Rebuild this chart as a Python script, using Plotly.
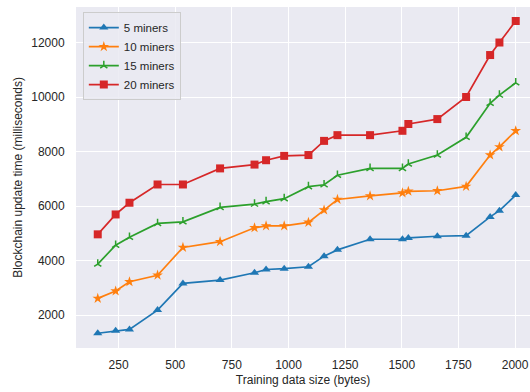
import plotly.graph_objects as go

sizes = [158, 237, 298, 422, 534, 698, 850, 901, 981, 1088, 1157, 1216, 1360, 1503, 1529, 1657, 1784, 1890, 1931, 2003]
miners_5 = [1330, 1420, 1470, 2180, 3160, 3280, 3550, 3670, 3700, 3770, 4160, 4390, 4780, 4780, 4830, 4890, 4910, 5600, 5830, 6400]
miners_10 = [2610, 2880, 3220, 3460, 4480, 4690, 5200, 5270, 5270, 5400, 5850, 6240, 6370, 6480, 6540, 6560, 6720, 7870, 8170, 8760]
miners_15 = [3870, 4560, 4850, 5360, 5420, 5950, 6070, 6160, 6270, 6710, 6780, 7130, 7380, 7380, 7540, 7870, 8520, 9770, 10070, 10520]
miners_20 = [4960, 5690, 6120, 6790, 6790, 7380, 7520, 7680, 7840, 7870, 8390, 8600, 8600, 8760, 9010, 9190, 10000, 11540, 12000, 12790]

x_ticks = [250, 500, 750, 1000, 1250, 1500, 1750, 2000]
y_ticks = [2000, 4000, 6000, 8000, 10000, 12000]

series = [
    ("5 miners", miners_5, "#1f77b4", "triangle-up", 8),
    ("10 miners", miners_10, "#ff7f0e", "star", 8),
    ("15 miners", miners_15, "#2ca02c", "y-up", 6),
    ("20 miners", miners_20, "#d62728", "square", 8),
]

fig = go.Figure()
for name, vals, color, sym, sz in series:
    marker = dict(symbol=sym, size=sz, color=color)
    if sym == "y-up":
        marker["line"] = dict(color=color, width=1.5)
    else:
        marker["line"] = dict(width=0)
    fig.add_trace(go.Scatter(
        x=sizes, y=vals, name=name, mode="lines+markers",
        line=dict(color=color, width=1.7), marker=marker,
    ))

fig.update_layout(
    width=530, height=392,
    margin=dict(l=76, r=0, t=7, b=44),
    paper_bgcolor="white",
    plot_bgcolor="#EAEAF2",
    font=dict(family="Liberation Sans, Arial, sans-serif", size=12, color="#262626"),
    legend=dict(
        x=0.015, y=0.985, xanchor="left", yanchor="top",
        bgcolor="rgba(234,234,242,0.85)", bordercolor="#CCCCCC", borderwidth=1,
        font=dict(size=11.5), tracegroupgap=0, itemwidth=30,
    ),
)
fig.update_xaxes(
    range=[62, 2066], tickvals=x_ticks, ticktext=[str(v) for v in x_ticks],
    showgrid=True, gridcolor="white", gridwidth=1, zeroline=False,
    ticks="outside", ticklen=6, tickcolor="rgba(0,0,0,0)",
    ticklabeloverflow="allow",
    title=dict(text="Training data size (bytes)", font=dict(size=12), standoff=4),
    showline=False,
)
fig.update_yaxes(
    range=[789, 13303], tickvals=y_ticks, ticktext=[str(v) for v in y_ticks],
    showgrid=True, gridcolor="white", gridwidth=1, zeroline=False,
    ticks="outside", ticklen=8, tickcolor="rgba(0,0,0,0)",
    title=dict(text="Blockchain update time (milliseconds)", font=dict(size=12), standoff=6),
    showline=False,
)
fig.write_html(
    "out.html",
    config={"displayModeBar": False},
    post_script="document.body.style.margin='0';document.body.style.overflow='hidden';",
)
